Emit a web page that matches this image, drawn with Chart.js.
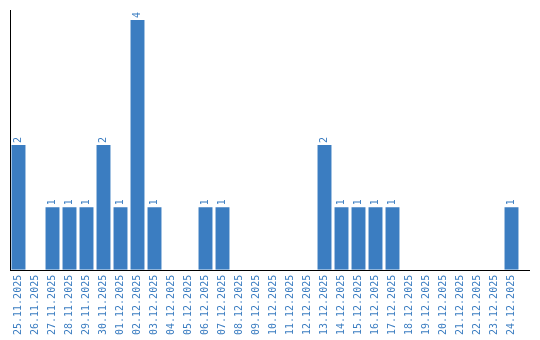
<!DOCTYPE html>
<html>
<head>
<meta charset="utf-8">
<script src="https://cdn.jsdelivr.net/npm/chart.js@4"></script>
<style>
  html, body { margin: 0; padding: 0; background: #fff; }
  #wrap { width: 540px; height: 340px; }
</style>
</head>
<body>
<div id="wrap"><canvas id="mycanvas" width="540" height="340"></canvas></div>
<script>
var days = ["25.11.2025", "26.11.2025", "27.11.2025", "28.11.2025", "29.11.2025",
  "30.11.2025", "01.12.2025", "02.12.2025", "03.12.2025", "04.12.2025",
  "05.12.2025", "06.12.2025", "07.12.2025", "08.12.2025", "09.12.2025",
  "10.12.2025", "11.12.2025", "12.12.2025", "13.12.2025", "14.12.2025",
  "15.12.2025", "16.12.2025", "17.12.2025", "18.12.2025", "19.12.2025",
  "20.12.2025", "21.12.2025", "22.12.2025", "23.12.2025", "24.12.2025"];
var counts = [2, 0, 1, 1, 1, 2, 1, 4, 1, 0,
  0, 1, 1, 0, 0, 0, 0, 0, 2, 1,
  1, 1, 1, 0, 0, 0, 0, 0, 0, 1];

var blue = "#3b7dc1";
var monoFont = "'DejaVu Sans Mono', monospace";

// numbers above the bars, turned upright
var valueLabels = {
  id: "valueLabels",
  afterDatasetsDraw: function(chart) {
    var ctx = chart.ctx;
    var meta = chart.getDatasetMeta(0);
    ctx.save();
    ctx.fillStyle = blue;
    ctx.font = "10px " + monoFont;
    ctx.textAlign = "left";
    ctx.textBaseline = "middle";
    meta.data.forEach(function(bar, i) {
      if (!counts[i]) return;
      ctx.save();
      ctx.translate(bar.x, bar.y - 2);
      ctx.rotate(-Math.PI / 2);
      ctx.fillText(String(counts[i]), 0, 0);
      ctx.restore();
    });
    ctx.restore();
  }
};

// base line, running a bit past the last bar
var baseLine = {
  id: "baseLine",
  afterDraw: function(chart) {
    var a = chart.chartArea;
    var ctx = chart.ctx;
    var y = Math.round(a.bottom) + 0.5;
    ctx.save();
    ctx.strokeStyle = "#000";
    ctx.lineWidth = 1;
    ctx.beginPath();
    ctx.moveTo(a.left, y);
    ctx.lineTo(a.right + 10, y);
    ctx.stroke();
    ctx.restore();
  }
};

var chartdata = {
  labels: days,
  datasets: [{
    data: counts,
    backgroundColor: blue,
    borderWidth: 0,
    categoryPercentage: 1,
    barPercentage: 0.82
  }]
};

new Chart(document.getElementById("mycanvas"), {
  type: "bar",
  data: chartdata,
  plugins: [valueLabels, baseLine],
  options: {
    responsive: false,
    animation: false,
    events: [],
    layout: { padding: { left: 10, top: 10, right: 20, bottom: 0 } },
    plugins: { legend: { display: false }, tooltip: { enabled: false } },
    scales: {
      x: {
        grid: { display: false, drawTicks: false },
        border: { display: false },
        ticks: {
          color: blue,
          font: { family: monoFont, size: 10 },
          minRotation: 90,
          maxRotation: 90,
          autoSkip: false,
          padding: 5
        }
      },
      y: {
        min: 0,
        max: 4.16,
        grid: { display: false, drawTicks: false },
        border: { display: true, color: "#000", width: 1 },
        ticks: { display: false }
      }
    }
  }
});
</script>
</body>
</html>
